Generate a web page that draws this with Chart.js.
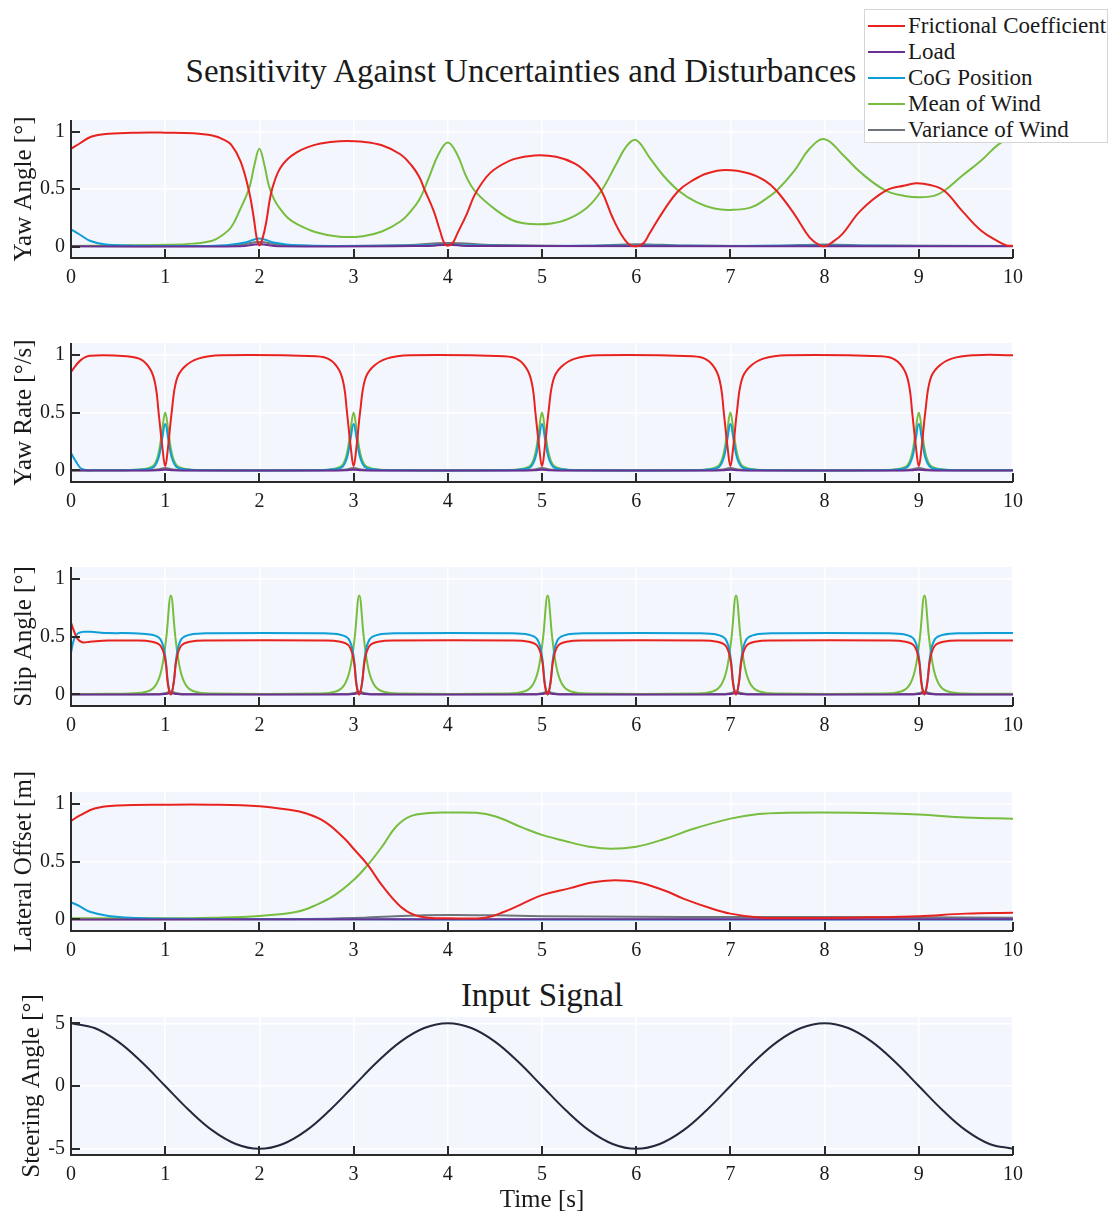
<!DOCTYPE html>
<html>
<head>
<meta charset="utf-8">
<script src="https://cdn.jsdelivr.net/npm/chart.js@4.4.1/dist/chart.umd.min.js"></script>
<style>
  html,body{margin:0;padding:0;background:#fff;overflow:hidden;}
  #wrap{position:relative;width:1112px;height:1216px;font-family:"Liberation Serif","Times New Roman",serif;color:#1a1a1a;}
  .panel{position:absolute;left:0;width:1112px;}
  .ttl{position:absolute;font-size:33px;line-height:33px;white-space:nowrap;text-align:center;}
  #legend{position:absolute;left:864px;top:9px;width:244px;height:134px;border:1px solid #d4d4d4;background:#fff;box-sizing:border-box;padding-top:3px;z-index:5;}
  .row{height:26px;line-height:26px;font-size:23px;white-space:nowrap;display:flex;align-items:center;}
  .sw{display:inline-block;width:37px;height:2px;margin-left:3px;margin-right:3px;}
</style>
</head>
<body>
<div id="wrap">
  <div class="ttl" style="left:0;width:1042px;top:55px;">Sensitivity Against Uncertainties and Disturbances</div>
  <div class="ttl" style="left:71px;width:942px;top:979px;">Input Signal</div>
  <div class="panel" id="p1"><canvas id="c1"></canvas></div>
  <div class="panel" id="p2"><canvas id="c2"></canvas></div>
  <div class="panel" id="p3"><canvas id="c3"></canvas></div>
  <div class="panel" id="p4"><canvas id="c4"></canvas></div>
  <div class="panel" id="p5"><canvas id="c5"></canvas></div>
  <div id="legend"></div>
</div>
<script>
// ---------- legend / series ----------
const seriesNames = ["Frictional Coefficient","Load","CoG Position","Mean of Wind","Variance of Wind"];
const seriesColors = ["#e8221e","#6b2f93","#0f9fd6","#78bd3f","#6f737b"];

// ---------- axis ticks ----------
const xTickVals = [0,1,2,3,4,5,6,7,8,9,10];
const xTickLabels = ["0","1","2","3","4","5","6","7","8","9","10"];
const unitTickVals = [0,0.5,1];
const unitTickLabels = ["0","0.5","1"];
const steerTickVals = [-5,0,5];
const steerTickLabels = ["-5","0","5"];

// ---------- Panel 1: Yaw Angle ----------
const yawT_fric = [0,0.1,0.22,0.4,0.7,1.0,1.3,1.5,1.62,1.7,1.8,1.89,1.94,1.97,2.0,2.03,2.07,2.12,2.17,2.22,2.3,2.4,2.5,2.65,2.85,3.1,3.3,3.5,3.62,3.7,3.75,3.85,3.92,3.97,4.02,4.06,4.1,4.2,4.28,4.36,4.45,4.55,4.7,4.92,5.15,5.35,5.5,5.63,5.75,5.86,5.94,6.02,6.08,6.14,6.29,6.45,6.6,6.75,6.95,7.2,7.37,7.49,7.68,7.84,7.95,8.01,8.07,8.19,8.38,8.65,8.85,8.97,9.12,9.27,9.46,9.66,9.85,9.93,10];
const yawFric = [0.85,0.9,0.957,0.98,0.99,0.99,0.985,0.965,0.93,0.885,0.74,0.48,0.25,0.08,0.01,0.06,0.2,0.45,0.59,0.68,0.76,0.82,0.86,0.895,0.915,0.91,0.88,0.8,0.7,0.6,0.5,0.31,0.13,0.02,0.01,0.04,0.11,0.28,0.44,0.55,0.64,0.7,0.76,0.792,0.78,0.72,0.62,0.485,0.25,0.08,0.01,0.005,0.03,0.11,0.31,0.485,0.575,0.635,0.665,0.635,0.57,0.485,0.28,0.08,0.01,0.005,0.03,0.11,0.31,0.485,0.53,0.55,0.535,0.485,0.31,0.14,0.04,0.01,0.005];
const yawT_load = [0,1.8,2.0,2.2,3.8,4.0,4.2,10];
const yawLoad = [0.002,0.003,0.02,0.003,0.005,0.015,0.005,0.003];
const yawT_cog = [0,0.1,0.2,0.35,0.6,1.0,1.6,1.85,2.0,2.15,2.4,3.0,3.8,4.0,4.2,5.0,6.0,7.0,8.0,9.0,10];
const yawCog = [0.15,0.1,0.05,0.02,0.008,0.005,0.008,0.035,0.07,0.035,0.01,0.005,0.01,0.015,0.01,0.005,0.008,0.005,0.008,0.005,0.005];
const yawT_wind = [0,0.5,1.0,1.3,1.5,1.6,1.7,1.8,1.85,1.9,1.95,2.0,2.05,2.1,2.15,2.2,2.3,2.4,2.6,2.85,3.1,3.3,3.5,3.6,3.7,3.8,3.9,4.0,4.1,4.2,4.3,4.5,4.7,4.9,5.1,5.28,5.48,5.63,5.79,5.9,6.0,6.14,6.29,6.45,6.64,6.83,7.0,7.22,7.37,7.49,7.68,7.84,8.0,8.19,8.38,8.65,8.85,9.0,9.16,9.27,9.46,9.66,9.85,10];
const yawWind = [0.005,0.01,0.015,0.025,0.05,0.095,0.167,0.33,0.42,0.53,0.72,0.85,0.72,0.53,0.42,0.35,0.25,0.195,0.124,0.085,0.09,0.13,0.22,0.3,0.41,0.6,0.8,0.905,0.8,0.6,0.47,0.325,0.224,0.195,0.2,0.24,0.34,0.485,0.72,0.875,0.925,0.775,0.615,0.485,0.385,0.33,0.318,0.34,0.41,0.485,0.66,0.85,0.933,0.8,0.645,0.485,0.44,0.428,0.44,0.485,0.615,0.745,0.89,0.95];
const yawT_var = [0,1.5,1.8,2.0,2.2,2.6,3.5,4.0,4.5,5.5,6.0,6.5,7.5,8.0,8.5,10];
const yawVar = [0.003,0.004,0.015,0.04,0.015,0.005,0.01,0.03,0.012,0.006,0.02,0.008,0.006,0.018,0.008,0.005];

// ---------- Panel 2: Yaw Rate ----------
const rateT_fric = [0,0.1,0.2,
  0.6,0.75,0.85,0.9,0.93,0.97,1,1.03,1.07,1.12,1.2,1.35,1.6,
  2.6,2.75,2.85,2.9,2.93,2.97,3,3.03,3.07,3.12,3.2,3.35,3.6,
  4.6,4.75,4.85,4.9,4.93,4.97,5,5.03,5.07,5.12,5.2,5.35,5.6,
  6.6,6.75,6.85,6.9,6.93,6.97,7,7.03,7.07,7.12,7.2,7.35,7.6,
  8.6,8.75,8.85,8.9,8.93,8.97,9,9.03,9.07,9.12,9.2,9.35,9.6,
  10];
const rateFric = [0.85,0.95,0.99,
  0.985,0.955,0.86,0.72,0.5,0.2,0.035,0.2,0.51,0.78,0.89,0.965,0.995,
  0.985,0.955,0.86,0.72,0.5,0.2,0.035,0.2,0.51,0.78,0.89,0.965,0.995,
  0.985,0.955,0.86,0.72,0.5,0.2,0.035,0.2,0.51,0.78,0.89,0.965,0.995,
  0.985,0.955,0.86,0.72,0.5,0.2,0.035,0.2,0.51,0.78,0.89,0.965,0.995,
  0.985,0.955,0.86,0.72,0.5,0.2,0.035,0.2,0.51,0.78,0.89,0.965,0.995,
  0.995];
const rateT_peak = [0,0.05,0.12,0.3,
  0.6,0.8,0.88,0.93,0.965,1,1.035,1.07,1.12,1.2,1.4,
  2.6,2.8,2.88,2.93,2.965,3,3.035,3.07,3.12,3.2,3.4,
  4.6,4.8,4.88,4.93,4.965,5,5.035,5.07,5.12,5.2,5.4,
  6.6,6.8,6.88,6.93,6.965,7,7.035,7.07,7.12,7.2,7.4,
  8.6,8.8,8.88,8.93,8.965,9,9.035,9.07,9.12,9.2,9.4,
  10];
const rateWind = [0,0,0.001,0.002,
  0.003,0.015,0.045,0.15,0.33,0.5,0.33,0.15,0.045,0.015,0.003,
  0.003,0.015,0.045,0.15,0.33,0.5,0.33,0.15,0.045,0.015,0.003,
  0.003,0.015,0.045,0.15,0.33,0.5,0.33,0.15,0.045,0.015,0.003,
  0.003,0.015,0.045,0.15,0.33,0.5,0.33,0.15,0.045,0.015,0.003,
  0.003,0.015,0.045,0.15,0.33,0.5,0.33,0.15,0.045,0.015,0.003,
  0.002];
const rateCog = [0.15,0.08,0.01,0.002,
  0.002,0.01,0.03,0.11,0.26,0.4,0.26,0.11,0.03,0.01,0.002,
  0.002,0.01,0.03,0.11,0.26,0.4,0.26,0.11,0.03,0.01,0.002,
  0.002,0.01,0.03,0.11,0.26,0.4,0.26,0.11,0.03,0.01,0.002,
  0.002,0.01,0.03,0.11,0.26,0.4,0.26,0.11,0.03,0.01,0.002,
  0.002,0.01,0.03,0.11,0.26,0.4,0.26,0.11,0.03,0.01,0.002,
  0.002];
const rateT_small = [0,
  0.8,0.92,1,1.08,1.2,
  2.8,2.92,3,3.08,3.2,
  4.8,4.92,5,5.08,5.2,
  6.8,6.92,7,7.08,7.2,
  8.8,8.92,9,9.08,9.2,
  10];
const rateVar = [0.002,
  0.002,0.008,0.02,0.008,0.002,
  0.002,0.008,0.02,0.008,0.002,
  0.002,0.008,0.02,0.008,0.002,
  0.002,0.008,0.02,0.008,0.002,
  0.002,0.008,0.02,0.008,0.002,
  0.002];
const rateLoad = [0,
  0,0.002,0.006,0.002,0,
  0,0.002,0.006,0.002,0,
  0,0.002,0.006,0.002,0,
  0,0.002,0.006,0.002,0,
  0,0.002,0.006,0.002,0,
  0];

// ---------- Panel 3: Slip Angle ----------
const slipT_main = [0,0.03,0.07,0.12,0.2,0.4,
  0.66,0.86,0.95,1,1.03,1.06,1.09,1.12,1.17,1.26,1.46,
  2.66,2.86,2.95,3,3.03,3.06,3.09,3.12,3.17,3.26,3.46,
  4.66,4.86,4.95,5,5.03,5.06,5.09,5.12,5.17,5.26,5.46,
  6.66,6.86,6.95,7,7.03,7.06,7.09,7.12,7.17,7.26,7.46,
  8.66,8.86,8.95,9,9.03,9.06,9.09,9.12,9.17,9.26,9.46,
  10];
const slipCog = [0.36,0.47,0.525,0.54,0.54,0.53,
  0.528,0.515,0.475,0.33,0.1,0.0,0.1,0.33,0.475,0.515,0.528,
  0.528,0.515,0.475,0.33,0.1,0.0,0.1,0.33,0.475,0.515,0.528,
  0.528,0.515,0.475,0.33,0.1,0.0,0.1,0.33,0.475,0.515,0.528,
  0.528,0.515,0.475,0.33,0.1,0.0,0.1,0.33,0.475,0.515,0.528,
  0.528,0.515,0.475,0.33,0.1,0.0,0.1,0.33,0.475,0.515,0.528,
  0.53];
const slipFric = [0.62,0.55,0.48,0.45,0.455,0.465,
  0.465,0.455,0.42,0.3,0.08,0.0,0.1,0.3,0.42,0.455,0.465,
  0.465,0.455,0.42,0.3,0.08,0.0,0.1,0.3,0.42,0.455,0.465,
  0.465,0.455,0.42,0.3,0.08,0.0,0.1,0.3,0.42,0.455,0.465,
  0.465,0.455,0.42,0.3,0.08,0.0,0.1,0.3,0.42,0.455,0.465,
  0.465,0.455,0.42,0.3,0.08,0.0,0.1,0.3,0.42,0.455,0.465,
  0.465];
const slipT_wind = [0,0.4,
  0.61,0.81,0.9,0.96,1.01,1.06,1.11,1.16,1.22,1.31,1.51,
  2.61,2.81,2.9,2.96,3.01,3.06,3.11,3.16,3.22,3.31,3.51,
  4.61,4.81,4.9,4.96,5.01,5.06,5.11,5.16,5.22,5.31,5.51,
  6.61,6.81,6.9,6.96,7.01,7.06,7.11,7.16,7.22,7.31,7.51,
  8.61,8.81,8.9,8.96,9.01,9.06,9.11,9.16,9.22,9.31,9.51,
  10];
const slipWind = [0.002,0.005,
  0.008,0.025,0.08,0.21,0.48,0.855,0.48,0.21,0.08,0.025,0.008,
  0.008,0.025,0.08,0.21,0.48,0.855,0.48,0.21,0.08,0.025,0.008,
  0.008,0.025,0.08,0.21,0.48,0.855,0.48,0.21,0.08,0.025,0.008,
  0.008,0.025,0.08,0.21,0.48,0.855,0.48,0.21,0.08,0.025,0.008,
  0.008,0.025,0.08,0.21,0.48,0.855,0.48,0.21,0.08,0.025,0.008,
  0.005];
const slipT_small = [0,
  0.94,1.01,1.06,1.11,1.18,
  2.94,3.01,3.06,3.11,3.18,
  4.94,5.01,5.06,5.11,5.18,
  6.94,7.01,7.06,7.11,7.18,
  8.94,9.01,9.06,9.11,9.18,
  10];
const slipVar = [0.002,
  0.003,0.012,0.025,0.012,0.003,
  0.003,0.012,0.025,0.012,0.003,
  0.003,0.012,0.025,0.012,0.003,
  0.003,0.012,0.025,0.012,0.003,
  0.003,0.012,0.025,0.012,0.003,
  0.002];
const slipLoad = [0,
  0,0.004,0.01,0.004,0,
  0,0.004,0.01,0.004,0,
  0,0.004,0.01,0.004,0,
  0,0.004,0.01,0.004,0,
  0,0.004,0.01,0.004,0,
  0];

// ---------- Panel 4: Lateral Offset ----------
const latT_fric = [0,0.1,0.25,0.5,1,1.5,2,2.3,2.5,2.7,2.9,3,3.15,3.3,3.5,3.65,3.8,4,4.4,4.6,4.8,5,5.3,5.5,5.73,6,6.3,6.5,6.8,7,7.3,7.6,8,8.5,9,9.5,10];
const latFric = [0.85,0.9,0.957,0.983,0.99,0.99,0.977,0.948,0.914,0.84,0.7,0.61,0.47,0.296,0.11,0.037,0.015,0.01,0.015,0.066,0.138,0.21,0.27,0.314,0.337,0.323,0.25,0.18,0.094,0.05,0.017,0.012,0.013,0.018,0.028,0.05,0.057];
const latT_load = [0,10];
const latLoad = [0,0.002];
const latT_cog = [0,0.1,0.2,0.4,0.7,1,2,4,10];
const latCog = [0.15,0.11,0.066,0.03,0.012,0.006,0.002,0,0];
const latT_wind = [0,1,1.5,2,2.4,2.6,2.8,3,3.15,3.3,3.45,3.6,3.8,4,4.3,4.5,4.8,5,5.3,5.5,5.73,6,6.3,6.6,7,7.3,7.6,8,8.6,9,9.5,10];
const latWind = [0.01,0.01,0.015,0.03,0.066,0.124,0.21,0.34,0.47,0.626,0.8,0.89,0.918,0.922,0.92,0.89,0.79,0.73,0.665,0.628,0.61,0.628,0.694,0.78,0.87,0.91,0.92,0.923,0.917,0.905,0.88,0.87];
const latT_var = [0,2.5,3,3.5,4,4.5,5,6,7,8,10];
const latVar = [0.002,0.004,0.012,0.03,0.038,0.035,0.028,0.022,0.02,0.02,0.015];

// ---------- Panel 5: Steering input ----------
const steerT = [0,0.25,0.5,0.75,1,1.25,1.5,1.75,2,2.25,2.5,2.75,3,3.25,3.5,3.75,4,4.25,4.5,4.75,5,5.25,5.5,5.75,6,6.25,6.5,6.75,7,7.25,7.5,7.75,8,8.25,8.5,8.75,9,9.25,9.5,9.75,10];
const steerAngle = [5,4.62,3.54,1.91,0,-1.91,-3.54,-4.62,-5,-4.62,-3.54,-1.91,0,1.91,3.54,4.62,5,4.62,3.54,1.91,0,-1.91,-3.54,-4.62,-5,-4.62,-3.54,-1.91,0,1.91,3.54,4.62,5,4.62,3.54,1.91,0,-1.91,-3.54,-4.62,-5];

// ---------- helpers ----------
const FONT = '"Liberation Serif","Times New Roman",serif';
const TXT = '#1a1a1a';
const AXIS = '#2a2a2a';
const BG = '#f3f7fd';

function pts(t, v){ return t.map((tt,i)=>({x:tt,y:v[i]})); }
function ds(label, color, t, v){
  return {label, data: pts(t,v), borderColor: color, backgroundColor: color, borderWidth: 2,
          pointRadius: 0, fill: false, tension: 0.4, cubicInterpolationMode: 'default'};
}

const framePlugin = {
  id: 'frame',
  beforeDraw(chart){
    const {ctx, chartArea:{left,right,top,bottom}} = chart;
    ctx.save(); ctx.fillStyle = BG; ctx.fillRect(left, top, right-left, bottom-top); ctx.restore();
  },
  afterDraw(chart){
    const {ctx, chartArea:{left,right,top,bottom}, scales:{x,y}} = chart;
    ctx.save(); ctx.strokeStyle = AXIS; ctx.lineWidth = 2; ctx.lineCap = 'butt';
    ctx.beginPath();
    ctx.moveTo(left, top); ctx.lineTo(left, bottom); ctx.lineTo(right, bottom);
    x.ticks.forEach(t=>{ const px = Math.round(x.getPixelForValue(t.value)); ctx.moveTo(px, bottom); ctx.lineTo(px, bottom-9); });
    y.ticks.forEach(t=>{ const py = Math.round(y.getPixelForValue(t.value)); ctx.moveTo(left, py); ctx.lineTo(left+9, py); });
    ctx.stroke(); ctx.restore();
  }
};

function makePanel(n, areaTop, areaBottom, datasets, yMin, yMax, yVals, yLabels, yTitle, yTitlePad, xTitle){
  const padTop = 30, xH = xTitle ? 60 : 35, padBottom = xTitle ? 0 : 5;
  const H = (areaBottom - areaTop) + padTop + xH + padBottom;
  const div = document.getElementById('p'+n);
  div.style.top = (areaTop - padTop) + 'px';
  div.style.height = H + 'px';
  const cv = document.getElementById('c'+n);
  cv.width = 1112; cv.height = H;
  new Chart(cv, {
    type: 'line',
    data: { datasets },
    options: {
      responsive: false, animation: false, devicePixelRatio: 1,
      layout: { padding: { top: padTop, bottom: padBottom, left: 0, right: 99 } },
      plugins: { legend: { display: false }, tooltip: { enabled: false }, title: { display: false } },
      scales: {
        x: {
          type: 'linear', min: 0, max: 10,
          afterBuildTicks(s){ s.ticks = xTickVals.map(v=>({value:v})); },
          afterFit(s){ s.height = xH; },
          ticks: { autoSkip: false, maxRotation: 0, padding: 8, color: TXT,
                   font: { family: FONT, size: 20 },
                   callback: (v)=>{ const i = xTickVals.indexOf(v); return i>=0 ? xTickLabels[i] : ''; } },
          grid: { color: '#ffffff', lineWidth: 1.5, drawTicks: false },
          border: { display: false },
          title: { display: !!xTitle, text: xTitle || '', color: TXT,
                   font: { family: FONT, size: 25, lineHeight: 1 }, padding: { top: 0, bottom: 2 } }
        },
        y: {
          type: 'linear', min: yMin, max: yMax,
          afterBuildTicks(s){ s.ticks = yVals.map(v=>({value:v})); },
          afterFit(s){ s.width = 71; },
          ticks: { padding: 6, color: TXT, font: { family: FONT, size: 20 },
                   callback: (v)=>{ const i = yVals.indexOf(v); return i>=0 ? yLabels[i] : ''; } },
          grid: { color: '#ffffff', lineWidth: 1.5, drawTicks: false },
          border: { display: false },
          title: { display: true, text: yTitle, color: TXT,
                   font: { family: FONT, size: 25, lineHeight: 1 }, padding: { top: yTitlePad, bottom: 0 } }
        }
      }
    },
    plugins: [framePlugin]
  });
}

function fiveSeries(tf,vf, tl,vl, tc,vc, tw,vw, tv,vv){
  return [
    ds(seriesNames[0], seriesColors[0], tf, vf),
    ds(seriesNames[1], seriesColors[1], tl, vl),
    ds(seriesNames[2], seriesColors[2], tc, vc),
    ds(seriesNames[3], seriesColors[3], tw, vw),
    ds(seriesNames[4], seriesColors[4], tv, vv)
  ];
}

makePanel(1, 120, 258, fiveSeries(yawT_fric,yawFric, yawT_load,yawLoad, yawT_cog,yawCog, yawT_wind,yawWind, yawT_var,yawVar),
  -0.1, 1.1, unitTickVals, unitTickLabels, 'Yaw Angle [°]', 12);
makePanel(2, 343, 482, fiveSeries(rateT_fric,rateFric, rateT_small,rateLoad, rateT_peak,rateCog, rateT_peak,rateWind, rateT_small,rateVar),
  -0.1, 1.1, unitTickVals, unitTickLabels, 'Yaw Rate [°/s]', 12);
makePanel(3, 567, 706, fiveSeries(slipT_main,slipFric, slipT_small,slipLoad, slipT_main,slipCog, slipT_wind,slipWind, slipT_small,slipVar),
  -0.1, 1.1, unitTickVals, unitTickLabels, 'Slip Angle [°]', 12);
makePanel(4, 792, 931, fiveSeries(latT_fric,latFric, latT_load,latLoad, latT_cog,latCog, latT_wind,latWind, latT_var,latVar),
  -0.1, 1.1, unitTickVals, unitTickLabels, 'Lateral Offset [m]', 12);
makePanel(5, 1017, 1155, [ds('Steering Angle', '#23283a', steerT, steerAngle)],
  -5.5, 5.5, steerTickVals, steerTickLabels, 'Steering Angle [°]', 20, 'Time [s]');

// legend (HTML text)
const lg = document.getElementById('legend');
seriesNames.forEach((name,i)=>{
  const r = document.createElement('div'); r.className = 'row';
  const s = document.createElement('span'); s.className = 'sw'; s.style.background = seriesColors[i];
  const tx = document.createElement('span'); tx.textContent = name;
  r.appendChild(s); r.appendChild(tx); lg.appendChild(r);
});
</script>
</body>
</html>
